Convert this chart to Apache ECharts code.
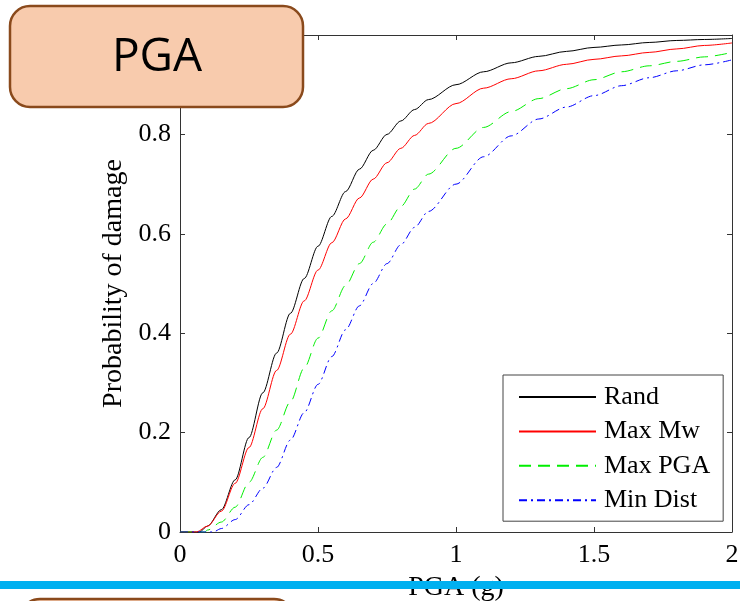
<!DOCTYPE html>
<html>
<head>
<meta charset="utf-8">
<title>Probability of damage vs PGA</title>
<script src="https://cdn.jsdelivr.net/npm/echarts@6/dist/echarts.min.js"></script>
<style>
  html, body { margin: 0; padding: 0; background: #ffffff; }
  #chart { width: 740px; height: 601px; }
</style>
</head>
<body>
<div id="chart"></div>
<script>
// Fragility curves: probability of damage against peak ground acceleration (g)
const seriesNames = ['Rand', 'Max Mw', 'Max PGA', 'Min Dist'];

const randPGA  = [0, 0.07, 0.1, 0.15, 0.2, 0.25, 0.3, 0.35, 0.4, 0.45, 0.5, 0.55, 0.6, 0.65, 0.7, 0.75, 0.8, 0.85, 0.9, 1.0, 1.1, 1.2, 1.3, 1.4, 1.5, 1.6, 1.7, 1.8, 1.9, 2.0];
const randProb = [0, 0, 0.012, 0.045, 0.105, 0.19, 0.28, 0.36, 0.44, 0.51, 0.575, 0.635, 0.685, 0.73, 0.768, 0.8, 0.827, 0.85, 0.87, 0.9, 0.926, 0.944, 0.957, 0.967, 0.975, 0.98, 0.985, 0.989, 0.991, 0.993];

const maxMwPGA  = [0, 0.06, 0.1, 0.15, 0.2, 0.25, 0.3, 0.35, 0.4, 0.45, 0.5, 0.55, 0.6, 0.65, 0.7, 0.75, 0.8, 0.85, 0.9, 1.0, 1.1, 1.2, 1.3, 1.4, 1.5, 1.6, 1.7, 1.8, 1.9, 2.0];
const maxMwProb = [0, 0, 0.012, 0.042, 0.098, 0.17, 0.248, 0.325, 0.398, 0.465, 0.527, 0.582, 0.63, 0.672, 0.71, 0.743, 0.772, 0.798, 0.822, 0.862, 0.893, 0.912, 0.928, 0.941, 0.951, 0.958, 0.965, 0.972, 0.979, 0.984];

const maxPgaPGA  = [0, 0.09, 0.1, 0.15, 0.2, 0.25, 0.3, 0.35, 0.4, 0.45, 0.5, 0.55, 0.6, 0.65, 0.7, 0.75, 0.8, 0.85, 0.9, 1.0, 1.1, 1.2, 1.3, 1.4, 1.5, 1.6, 1.7, 1.8, 1.9, 2.0];
const maxPgaProb = [0, 0, 0.004, 0.02, 0.05, 0.1, 0.15, 0.205, 0.262, 0.33, 0.39, 0.445, 0.496, 0.54, 0.583, 0.62, 0.655, 0.69, 0.72, 0.772, 0.814, 0.846, 0.872, 0.892, 0.91, 0.926, 0.938, 0.947, 0.956, 0.965];

const minDistPGA  = [0, 0.12, 0.15, 0.2, 0.25, 0.3, 0.35, 0.4, 0.45, 0.5, 0.55, 0.6, 0.65, 0.7, 0.75, 0.8, 0.85, 0.9, 1.0, 1.1, 1.2, 1.3, 1.4, 1.5, 1.6, 1.7, 1.8, 1.9, 2.0];
const minDistProb = [0, 0, 0.007, 0.025, 0.055, 0.088, 0.13, 0.185, 0.24, 0.297, 0.353, 0.407, 0.455, 0.5, 0.54, 0.578, 0.613, 0.645, 0.7, 0.755, 0.797, 0.831, 0.855, 0.878, 0.898, 0.914, 0.928, 0.94, 0.95];

const xTicks = [0, 0.5, 1, 1.5, 2];
const yTicks = [0, 0.2, 0.4, 0.6, 0.8, 1];

const pairs = (xs, ys) => xs.map((x, i) => [x, ys[i]]);

const serifFont = '"Liberation Serif", "Times New Roman", serif';
const frameColor = '#333333';

const frameAxis = {
  min: 0,
  axisLine: { show: true, onZero: false, lineStyle: { color: frameColor, width: 1 } },
  axisTick: { show: true, inside: true, length: 5, lineStyle: { color: frameColor } },
  splitLine: { show: false }
};

const chart = echarts.init(document.getElementById('chart'), null, { renderer: 'canvas' });

const lineSeries = (name, xs, ys, color, dash) => ({
  name,
  type: 'line',
  data: pairs(xs, ys),
  xAxisIndex: 0,
  yAxisIndex: 0,
  symbol: 'none',
  smooth: 0.3,
  smoothMonotone: 'x',
  lineStyle: { color, width: 1, type: dash },
  itemStyle: { color },
  emphasis: { disabled: true },
  animation: false
});

chart.setOption({
  backgroundColor: '#ffffff',
  animation: false,
  grid: { left: 180, right: 8, top: 35, bottom: 69, outerBoundsMode: 'none', containLabel: false },
  xAxis: [
    Object.assign({}, frameAxis, {
      type: 'value', position: 'bottom', max: xTicks[xTicks.length - 1], interval: 0.5,
      name: 'PGA (g)', nameLocation: 'middle', nameGap: 42,
      nameTextStyle: { fontFamily: serifFont, fontSize: 28, color: '#000' },
      axisLabel: { show: true, margin: 10, fontFamily: serifFont, fontSize: 26, color: '#000' }
    }),
    Object.assign({}, frameAxis, {
      type: 'value', position: 'top', max: xTicks[xTicks.length - 1], interval: 0.5,
      axisLabel: { show: false }
    })
  ],
  yAxis: [
    Object.assign({}, frameAxis, {
      type: 'value', position: 'left', max: yTicks[yTicks.length - 1], interval: 0.2,
      name: 'Probability of damage', nameLocation: 'middle', nameGap: 50, nameRotate: 90,
      nameTextStyle: { fontFamily: serifFont, fontSize: 28, color: '#000' },
      axisLabel: { show: true, margin: 9, fontFamily: serifFont, fontSize: 26, color: '#000' }
    }),
    Object.assign({}, frameAxis, {
      type: 'value', position: 'right', max: yTicks[yTicks.length - 1], interval: 0.2,
      axisLabel: { show: false }
    })
  ],
  legend: {
    show: true,
    orient: 'vertical',
    left: 503,
    top: 375,
    data: seriesNames,
    backgroundColor: '#ffffff',
    borderColor: '#444444',
    borderWidth: 1,
    borderRadius: 0,
    padding: [9, 13, 8, 15],
    itemGap: 8.4,
    itemWidth: 77,
    itemHeight: 26,
    selectedMode: false,
    itemStyle: { opacity: 0 },
    textStyle: { fontFamily: serifFont, fontSize: 26, color: '#000', lineHeight: 26, padding: [0, 0, 0, 3] }
  },
  series: [
    lineSeries(seriesNames[0], randPGA, randProb, '#000000', 'solid'),
    lineSeries(seriesNames[1], maxMwPGA, maxMwProb, '#ff0000', 'solid'),
    lineSeries(seriesNames[2], maxPgaPGA, maxPgaProb, '#00ee00', [12, 7]),
    lineSeries(seriesNames[3], minDistPGA, minDistProb, '#0000ff', [8, 4, 2, 4])
  ],
  graphic: [
    {
      type: 'rect', z: 100,
      shape: { x: 10, y: 6, width: 293, height: 101, r: 20 },
      style: { fill: '#f8cbad', stroke: '#8a4a1c', lineWidth: 2.5 }
    },
    {
      type: 'text', z: 101,
      style: {
        text: 'PGA', x: 157, y: 58, align: 'center', verticalAlign: 'middle',
        font: '46px "Open Sans", "Noto Sans", sans-serif', fill: '#000000'
      }
    },
    {
      type: 'rect', z: 100,
      shape: { x: 20, y: 599, width: 274, height: 40, r: 20 },
      style: { fill: '#f8cbad', stroke: '#8a4a1c', lineWidth: 2.5 }
    },
    {
      type: 'rect', z: 100,
      shape: { x: 0, y: 581, width: 740, height: 8 },
      style: { fill: '#00b0f0' }
    }
  ]
});
</script>
</body>
</html>
